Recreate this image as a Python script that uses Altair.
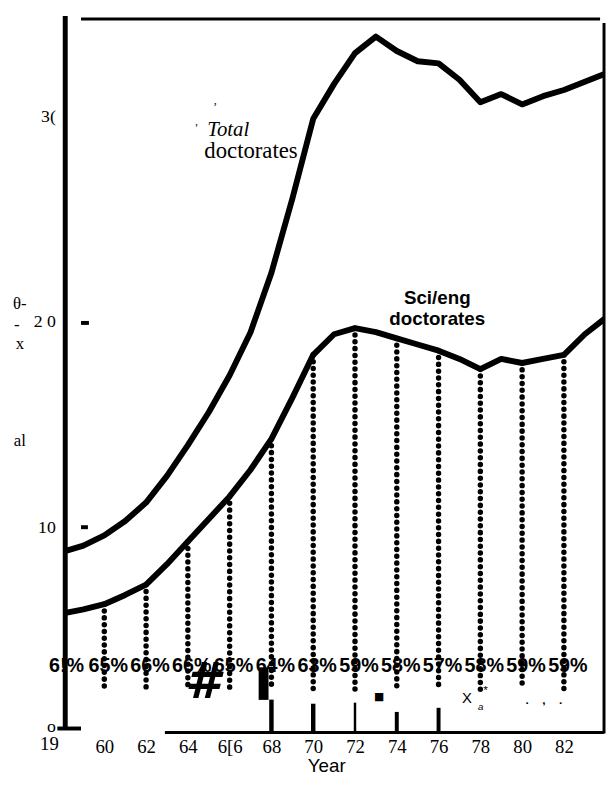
import altair as alt
import pandas as pd

# ---- data (thousands of doctorates) ----
years = list(range(1958, 1985))
total = [8.8, 9.1, 9.6, 10.3, 11.2, 12.5, 14.0, 15.6, 17.4, 19.5, 22.4, 26.0, 29.9,
         31.6, 33.1, 33.9, 33.2, 32.7, 32.6, 31.8, 30.7, 31.1, 30.6, 31.0, 31.3, 31.7, 32.1]
scieng = [5.8, 6.0, 6.25, 6.7, 7.2, 8.2, 9.3, 10.4, 11.5, 12.8, 14.3, 16.3, 18.4,
          19.4, 19.7, 19.5, 19.2, 18.9, 18.6, 18.2, 17.7, 18.2, 18.0, 18.2, 18.4, 19.4, 20.2]

pct_years = [1958, 1960, 1962, 1964, 1966, 1968, 1970, 1972, 1974, 1976, 1978, 1980, 1982]
pct_labels = ["6!%", "65%", "66%", "66%", "65%", "64%", "63%", "59%", "58%", "57%", "58%", "59%", "59%"]

stub_years = [1968, 1970, 1972, 1974, 1976]
stub_tops = [1.6, 1.4, 1.45, 1.0, 1.2]
stub_widths = [4.5, 4.5, 2.5, 4, 4]

x_ticks = [1960, 1962, 1964, 1966, 1968, 1970, 1972, 1974, 1976, 1978, 1980, 1982]
y_ticks = [0, 10, 20, 30]

W, H = 546, 723

series = pd.DataFrame({
    "year": years * 2,
    "value": total + scieng,
    "series": ["Total"] * len(years) + ["Sci/eng"] * len(years),
})
sci_lookup = dict(zip(years, scieng))
dots = pd.DataFrame({"year": pct_years[1:], "top": [sci_lookup[y] for y in pct_years[1:]]})
pct = pd.DataFrame({"year": pct_years, "label": pct_labels})
stubs = pd.DataFrame({"year": stub_years, "top": stub_tops, "w": stub_widths})
one = pd.DataFrame({"k": [0]})

xscale = alt.Scale(domain=[1958.13, 1983.92], nice=False, zero=False)
yscale = alt.Scale(domain=[0, 34.76], nice=False, zero=False)

x_axis = alt.Axis(
    values=x_ticks, title=None, domain=False, ticks=False, grid=False,
    labelExpr="datum.value == 1966 ? '6[6' : substring(toString(datum.value), 2, 4)",
    labelFont="Liberation Serif", labelFontSize=19, labelPadding=5, labelColor="black",
)
y_axis = alt.Axis(
    values=y_ticks, title=None, domain=False, ticks=False, grid=False,
    labelExpr="datum.value == 0 ? 'o' : datum.value == 20 ? '2 0' : datum.value == 30 ? '3(' : datum.label",
    labelFont="Liberation Serif", labelFontSize=18, labelPadding=10, labelColor="black",
    labelOffset={"condition": {"test": "datum.value === 0", "value": -6}, "value": 0},
)

lines = alt.Chart(series).mark_line(color="black", strokeWidth=6, clip=True,
                                    strokeJoin="round").encode(
    x=alt.X("year:Q", scale=xscale, axis=x_axis),
    y=alt.Y("value:Q", scale=yscale, axis=y_axis),
    detail="series:N",
)

dotted = alt.Chart(dots).mark_rule(color="black", strokeWidth=5.5, strokeCap="round",
                                   strokeDash=[0.1, 6.8]).encode(
    x="year:Q", y="top:Q", y2=alt.datum(2.1),
)

stub_rules = alt.Chart(stubs).mark_rule(color="black").encode(
    x="year:Q", y="top:Q", y2=alt.datum(0),
    strokeWidth=alt.StrokeWidth("w:Q", scale=None, legend=None),
)

pct_text = alt.Chart(pct).mark_text(font="Liberation Sans", fontWeight="bold", fontSize=20,
                                    dx=4, baseline="middle", color="black").encode(
    x="year:Q", y=alt.value(656), text="label:N",
)

def txt(s, x, y, **kw):
    kw.setdefault("baseline", "middle")
    return alt.Chart(one).mark_text(color="black", **kw).encode(
        x=alt.value(x), y=alt.value(y), text=alt.value(s))

annotations = [
    txt("Total", 144, 113, align="left", font="Liberation Serif", fontStyle="italic", fontSize=21),
    txt("doctorates", 141, 134, align="left", font="Liberation Serif", fontSize=23),
    txt("'", 133, 111, align="center", font="Liberation Serif", fontSize=12),
    txt(",", 152, 82, align="center", font="Liberation Serif", fontSize=12),
    txt("Sci/eng", 377, 283, align="center", font="Liberation Sans", fontWeight="bold", fontSize=19),
    txt("doctorates", 377, 304, align="center", font="Liberation Sans", fontWeight="bold", fontSize=19),
    txt("19", -16, 735, align="center", font="Liberation Serif", fontSize=19),
    txt("Year", 265, 763, align="center", font="Liberation Sans", fontSize=19, baseline="alphabetic"),
    txt("θ-", -46, 289, align="center", font="Liberation Serif", fontSize=17),
    txt("-", -49, 310, align="center", font="Liberation Serif", fontSize=17),
    txt("x", -46, 329, align="center", font="Liberation Serif", fontSize=17),
    txt("al", -46, 428, align="center", font="Liberation Serif", fontSize=17),
    # scanning artefacts along the bottom
    txt("#", 139, 673, align="center", font="DejaVu Sans", fontWeight="bold",
        fontStyle="italic", fontSize=50),
    txt("■", 318, 687, align="center", font="DejaVu Sans", fontSize=11),
    txt("X", 407, 688, align="center", font="Liberation Sans", fontSize=15),
    txt("a", 421, 697, align="center", font="Liberation Sans", fontStyle="italic", fontSize=10),
    txt("*", 426, 680, align="center", font="Liberation Sans", fontSize=12),
    txt(".", 468, 690, align="center", font="Liberation Sans", fontWeight="bold", fontSize=12),
    txt(",", 485, 690, align="center", font="Liberation Sans", fontWeight="bold", fontSize=12),
    txt(".", 502, 690, align="center", font="Liberation Sans", fontWeight="bold", fontSize=12),
]

def rule(x, y, x2=None, y2=None, w=3):
    enc = {"x": alt.value(x), "y": alt.value(y)}
    if x2 is not None:
        enc["x2"] = alt.value(x2)
    if y2 is not None:
        enc["y2"] = alt.value(y2)
    return alt.Chart(one).mark_rule(color="black", strokeWidth=w).encode(**enc)

frame = [
    rule(0, -3, y2=719, w=5),        # left
    rule(16, 0, x2=542, w=3),        # top
    rule(546, 4, y2=724, w=3),       # right
    rule(101, 723, x2=546, w=3),     # bottom
    rule(-8, 719, x2=16, w=4),       # bottom-left stub
    rule(16, 308, x2=24, w=4),       # inner tick 20
    rule(16, 515, x2=23, w=4),       # inner tick 10
    rule(201, 657, y2=690, w=10),    # dark smudge near 1968
]

chart = alt.layer(dotted, stub_rules, lines, pct_text, *annotations, *frame).properties(
    width=W, height=H,
    autosize=alt.AutoSizeParams(type="none"),
    padding={"left": 58, "top": 6, "right": 2, "bottom": 40},
    background="white",
).configure_view(stroke=None)

chart.save("out.html", embed_options={"renderer": "svg", "actions": False})
